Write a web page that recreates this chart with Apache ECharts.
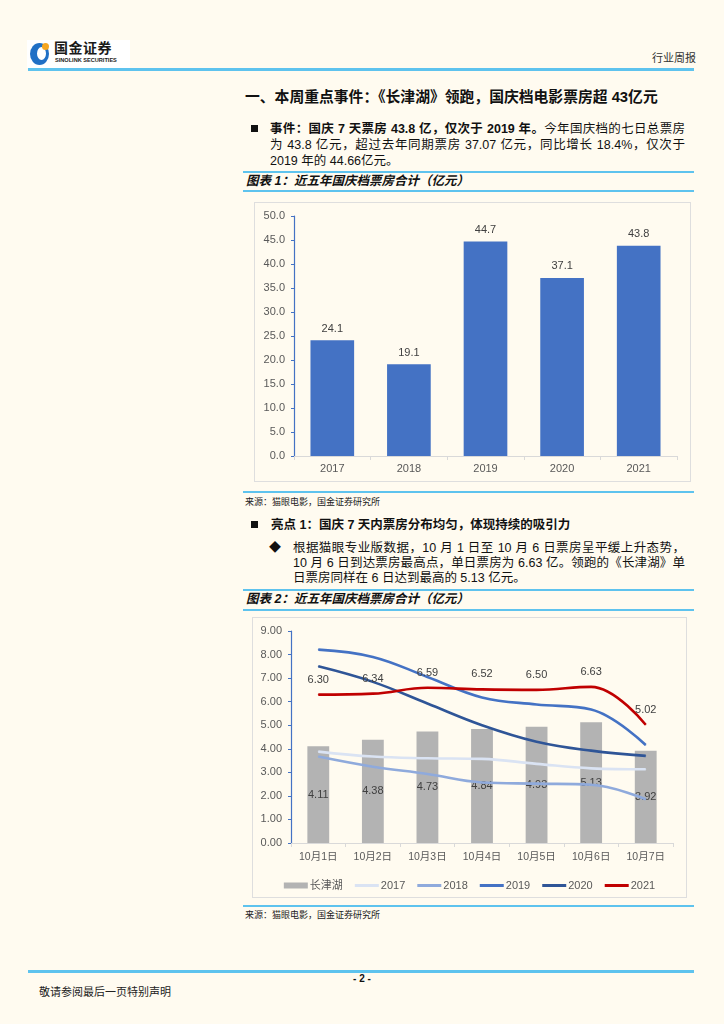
<!DOCTYPE html>
<html>
<head>
<meta charset="utf-8">
<script src="https://cdn.jsdelivr.net/npm/echarts@6/dist/echarts.min.js"></script>
<style>
  html, body { margin:0; padding:0; }
  body { width:724px; height:1024px; background:#fffbf0; position:relative; overflow:hidden;
         font-family:"Liberation Sans","Noto Sans CJK SC",sans-serif; color:#111; }
  .abs { position:absolute; white-space:nowrap; line-height:16px; }
  .hl { position:absolute; background:#5ec3ee; }
  .jl { text-align:justify; text-align-last:justify; }
  .frame { position:absolute; border:1.5px solid #dedede; box-sizing:border-box; }
  .chart { position:absolute; }
</style>
</head>
<body>
<!-- logo -->
<div class="abs" style="left:27px;top:40px;width:103px;height:28px;background:#fff;"></div>
<div class="abs" style="left:30px;top:43px;width:19px;height:22px;border-radius:50%;background:#1f6fc5;"></div>
<div class="abs" style="left:37px;top:47px;width:9px;height:13px;border-radius:50%;background:#fff;"></div>
<div class="abs" style="left:42px;top:43px;width:7px;height:7px;border-radius:50%;background:#f5a623;"></div>
<div class="abs" style="left:54px;top:40px;font-size:14px;font-weight:bold;color:#1a1a1a;letter-spacing:0.5px;">国金证券</div>
<div class="abs" style="left:55px;top:56px;font-size:5.6px;font-weight:bold;color:#1a1a1a;line-height:8px;">SINOLINK SECURITIES</div>
<div class="abs" style="left:652px;top:50px;font-size:11px;color:#333;">行业周报</div>
<div class="hl" style="left:28px;top:68px;width:666px;height:2.5px;"></div>

<!-- heading -->
<div class="abs" style="left:245px;top:89px;font-size:14.8px;font-weight:bold;">一、本周重点事件：《长津湖》领跑，国庆档电影票房超 43亿元</div>

<!-- paragraph 1 -->
<div class="abs" style="left:251px;top:125px;width:7px;height:7px;background:#111;"></div>
<div class="abs jl" style="left:270px;top:121px;width:415px;font-size:12.5px;"><b>事件：国庆 7 天票房 43.8 亿，仅次于 2019 年。</b>今年国庆档的七日总票房</div>
<div class="abs jl" style="left:270px;top:137px;width:415px;font-size:12.5px;">为 43.8 亿元，超过去年同期票房 37.07 亿元，同比增长 18.4%，仅次于</div>
<div class="abs" style="left:270px;top:153px;font-size:12.5px;">2019 年的 44.66亿元。</div>

<!-- caption 1 -->
<div class="hl" style="left:243px;top:171px;width:451px;height:1.8px;"></div>
<div class="abs" style="left:246px;top:173px;font-size:12.5px;font-weight:bold;font-style:italic;">图表 1：近五年国庆档票房合计（亿元）</div>
<div class="hl" style="left:243px;top:190px;width:451px;height:1.8px;"></div>

<div class="frame" style="left:254px;top:202px;width:437px;height:280px;"></div>
<div id="c1" class="chart" style="left:254px;top:202px;width:437px;height:280px;"></div>

<div class="hl" style="left:243px;top:491px;width:451px;height:1.8px;"></div>
<div class="abs" style="left:245px;top:494px;font-size:9px;color:#222;">来源：猫眼电影，国金证券研究所</div>

<!-- paragraph 2 -->
<div class="abs" style="left:251px;top:521px;width:7px;height:7px;background:#111;"></div>
<div class="abs" style="left:271px;top:517px;font-size:12.5px;font-weight:bold;">亮点 1：国庆 7 天内票房分布均匀，体现持续的吸引力</div>
<div class="abs" style="left:269px;top:540px;font-size:12px;">◆</div>
<div class="abs jl" style="left:293px;top:540px;width:392px;font-size:12.5px;">根据猫眼专业版数据，10 月 1 日至 10 月 6 日票房呈平缓上升态势，</div>
<div class="abs jl" style="left:293px;top:555px;width:392px;font-size:12.5px;">10 月 6 日到达票房最高点，单日票房为 6.63 亿。领跑的《长津湖》单</div>
<div class="abs" style="left:293px;top:570px;font-size:12.5px;">日票房同样在 6 日达到最高的 5.13 亿元。</div>

<!-- caption 2 -->
<div class="hl" style="left:243px;top:589px;width:451px;height:1.8px;"></div>
<div class="abs" style="left:246px;top:591px;font-size:12.5px;font-weight:bold;font-style:italic;">图表 2：近五年国庆档票房合计（亿元）</div>
<div class="hl" style="left:243px;top:609px;width:451px;height:1.8px;"></div>

<div class="frame" style="left:252px;top:617px;width:435px;height:281px;"></div>
<div id="c2" class="chart" style="left:252px;top:617px;width:435px;height:281px;"></div>

<div class="hl" style="left:243px;top:905px;width:451px;height:1.8px;"></div>
<div class="abs" style="left:245px;top:907px;font-size:9px;color:#222;">来源：猫眼电影，国金证券研究所</div>

<!-- footer -->
<div class="hl" style="left:28px;top:970px;width:666px;height:2.5px;"></div>
<div class="abs" style="left:342px;top:971px;width:40px;text-align:center;font-size:10px;font-weight:bold;">- 2 -</div>
<div class="abs" style="left:39px;top:984px;font-size:11px;color:#222;">敬请参阅最后一页特别声明</div>

<script>
// ---- Chart 1 data ----
const years = ['2017', '2018', '2019', '2020', '2021'];
const totals = [24.1, 19.1, 44.7, 37.1, 43.8];
const yTicks1 = { min: 0, max: 50, interval: 5 };

// ---- Chart 2 data ----
const days = ['10月1日', '10月2日', '10月3日', '10月4日', '10月5日', '10月6日', '10月7日'];
const changjinhu = [4.11, 4.38, 4.73, 4.84, 4.93, 5.13, 3.92];
const s2017 = [3.88, 3.67, 3.60, 3.57, 3.36, 3.17, 3.13];
const s2018 = [3.67, 3.24, 2.93, 2.57, 2.52, 2.47, 1.86];
const s2019 = [8.21, 7.90, 7.05, 6.18, 5.88, 5.67, 4.16];
const s2020 = [7.50, 6.84, 5.92, 5.00, 4.30, 3.92, 3.70];
const s2021 = [6.30, 6.34, 6.59, 6.52, 6.50, 6.63, 5.02];
const yTicks2 = { min: 0, max: 9, interval: 1 };

const txt = '#595959';
const fontFam = '"Liberation Sans","Noto Sans CJK SC",sans-serif';

const c1 = echarts.init(document.getElementById('c1'), null, { renderer: 'canvas' });
c1.setOption({
  animation: false,
  backgroundColor: 'transparent',
  textStyle: { fontFamily: fontFam },
  grid: { left: 40, top: 14, right: 14, bottom: 26 },
  xAxis: {
    type: 'category', data: years,
    axisLine: { lineStyle: { color: '#d9d9d9', width: 1.2 } },
    axisTick: { show: true, length: 4, lineStyle: { color: '#d9d9d9' } },
    axisLabel: { color: txt, fontSize: 11, margin: 7, fontFamily: fontFam }
  },
  yAxis: {
    type: 'value', min: yTicks1.min, max: yTicks1.max, interval: yTicks1.interval,
    axisLine: { show: true, lineStyle: { color: '#4472c4', width: 1.2 } },
    axisTick: { show: true, length: 3, lineStyle: { color: '#4472c4' } },
    splitLine: { show: false },
    axisLabel: { color: txt, fontSize: 11, margin: 9, fontFamily: fontFam,
                 formatter: v => v.toFixed(1) }
  },
  series: [{
    type: 'bar', data: totals, barWidth: '57%',
    itemStyle: { color: '#4472c4' },
    label: { show: true, position: 'top', distance: 6, color: '#404040', fontSize: 11,
             fontFamily: fontFam, formatter: p => p.value.toFixed(1) }
  }]
});

const c2 = echarts.init(document.getElementById('c2'), null, { renderer: 'canvas' });
function lineS(name, data, color, extra) {
  return Object.assign({
    name, type: 'line', data, smooth: 0.4, symbol: 'circle', symbolSize: 1, showSymbol: true,
    lineStyle: { color, width: 2.6 }, itemStyle: { color }
  }, extra || {});
}
const lineIcon = 'path://M0,0 L32,0 L32,4 L0,4 Z';
c2.setOption({
  animation: false,
  backgroundColor: 'transparent',
  textStyle: { fontFamily: fontFam },
  grid: { left: 39, top: 14, right: 14, bottom: 55 },
  legend: {
    top: 258, left: 'center', itemWidth: 24, itemHeight: 6, itemGap: 12,
    textStyle: { color: txt, fontSize: 11, fontFamily: fontFam, padding: [0, 0, 0, -3] },
    data: [
      { name: '长津湖', icon: 'rect' },
      { name: '2017', icon: lineIcon },
      { name: '2018', icon: lineIcon },
      { name: '2019', icon: lineIcon },
      { name: '2020', icon: lineIcon },
      { name: '2021', icon: lineIcon }
    ]
  },
  xAxis: {
    type: 'category', data: days,
    axisLine: { lineStyle: { color: '#d9d9d9', width: 1.2 } },
    axisTick: { show: true, length: 4, lineStyle: { color: '#d9d9d9' } },
    axisLabel: { color: txt, fontSize: 10.5, margin: 9, fontFamily: fontFam }
  },
  yAxis: {
    type: 'value', min: yTicks2.min, max: yTicks2.max, interval: yTicks2.interval,
    axisLine: { show: true, lineStyle: { color: '#4472c4', width: 1.2 } },
    axisTick: { show: true, length: 3, lineStyle: { color: '#4472c4' } },
    splitLine: { show: false },
    axisLabel: { color: txt, fontSize: 11, margin: 9, fontFamily: fontFam,
                 formatter: v => v.toFixed(2) }
  },
  series: [
    { name: '长津湖', type: 'bar', data: changjinhu, barWidth: '40%',
      itemStyle: { color: '#b3b3b3' },
      label: { show: true, position: 'inside', color: '#404040', fontSize: 11,
               fontFamily: fontFam, formatter: p => p.value.toFixed(2) } },
    lineS('2017', s2017, '#dae3f3'),
    lineS('2018', s2018, '#8faadc'),
    lineS('2019', s2019, '#4472c4'),
    lineS('2020', s2020, '#2f5597'),
    lineS('2021', s2021, '#c00000', {
      label: { show: true, position: 'top', distance: 9, color: '#404040', fontSize: 11,
               fontFamily: fontFam, formatter: p => p.value.toFixed(2) }
    })
  ]
});
</script>
</body>
</html>
